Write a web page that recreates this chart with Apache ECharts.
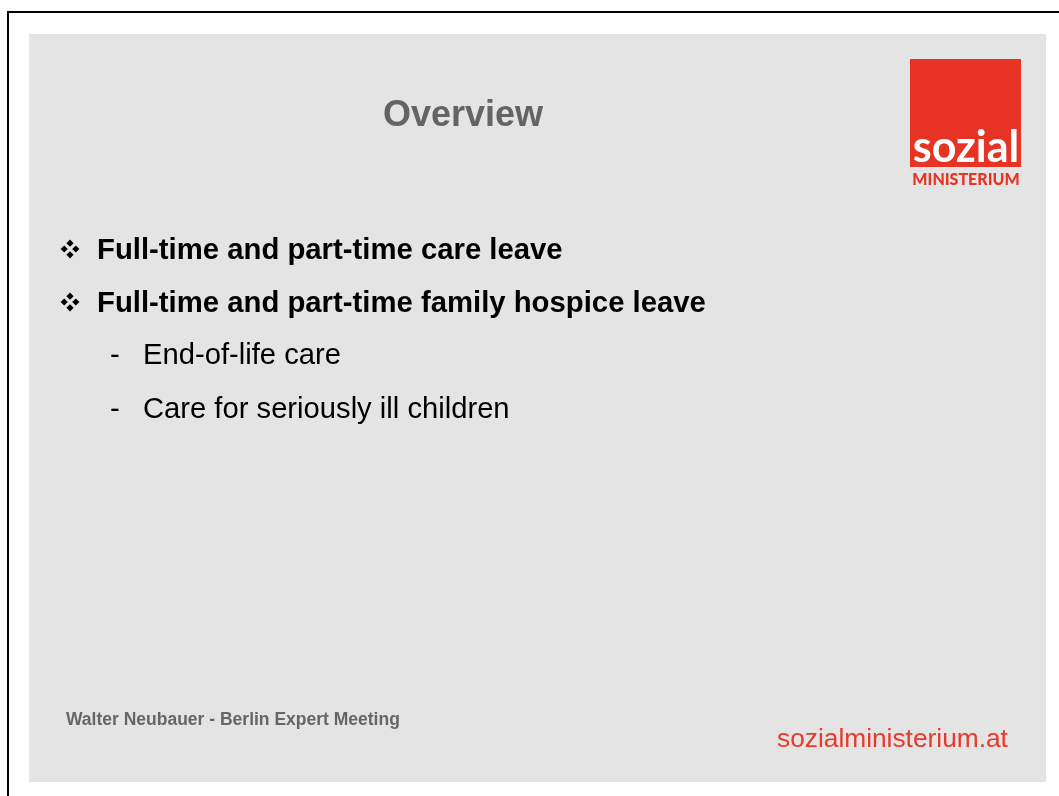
<!DOCTYPE html>
<html>
<head>
<meta charset="utf-8">
<script src="https://cdn.jsdelivr.net/npm/echarts@6/dist/echarts.min.js"></script>
<style>
  html, body { margin: 0; padding: 0; background: #fff; }
  #main { width: 1059px; height: 796px; }
</style>
</head>
<body>
<div id="main"></div>
<script>
  // slide content
  const slideTitle = 'Overview'
  const bulletItems = [
    'Full-time and part-time care leave',
    'Full-time and part-time family hospice leave'
  ]
  const subItems = [
    'End-of-life care',
    'Care for seriously ill children'
  ]
  const footerLeft = 'Walter Neubauer - Berlin Expert Meeting'
  const footerRight = 'sozialministerium.at'
  const logoWords = ['sozial', 'MINISTERIUM']

  const RED = '#e63323'
  const FONT = '"Liberation Sans", Arial, sans-serif'

  const chart = echarts.init(document.getElementById('main'), null, { renderer: 'canvas' })

  // four-diamond bullet (like the wingdings one)
  function diamondBullet(cx, cy) {
    const d = 3.6, off = 5.8
    const pts = [[0, -off], [-off, 0], [off, 0], [0, off]]
    return pts.map(function (p) {
      const x = cx + p[0], y = cy + p[1]
      return {
        type: 'polygon',
        shape: { points: [[x, y - d], [x + d, y], [x, y + d], [x - d, y]] },
        style: { fill: '#000' }
      }
    })
  }

  const elements = []

  // frame lines
  elements.push({ type: 'line', shape: { x1: 7, y1: 12, x2: 1059, y2: 12 }, style: { stroke: '#000', lineWidth: 2 } })
  elements.push({ type: 'line', shape: { x1: 8, y1: 11, x2: 8, y2: 796 }, style: { stroke: '#000', lineWidth: 2 } })

  // slide background
  elements.push({ type: 'rect', shape: { x: 29, y: 34, width: 1017, height: 748 }, style: { fill: '#e4e4e4' } })

  // logo
  elements.push({ type: 'rect', shape: { x: 910, y: 59, width: 111, height: 108 }, style: { fill: RED } })
  elements.push({
    type: 'text',
    style: { x: 966, y: 170, text: logoWords[0], fill: '#fff', font: 'bold 43px Lato, sans-serif', textAlign: 'center', textVerticalAlign: 'bottom' }
  })
  elements.push({
    type: 'text',
    style: { x: 966, y: 180, text: logoWords[1], fill: RED, font: '900 16px Lato, sans-serif', textAlign: 'center', textVerticalAlign: 'middle' }
  })

  // title
  elements.push({
    type: 'text',
    style: { x: 463, y: 116, text: slideTitle, fill: '#646466', font: 'bold 36px ' + FONT, textAlign: 'center', textVerticalAlign: 'middle' }
  })

  // main bullets
  bulletItems.forEach(function (t, i) {
    const y = 251 + i * 53
    diamondBullet(70, y - 2).forEach(function (e) { elements.push(e) })
    elements.push({
      type: 'text',
      style: { x: 97, y: y, text: t, fill: '#000', font: 'bold 29.3px ' + FONT, textVerticalAlign: 'middle' }
    })
  })

  // sub bullets
  subItems.forEach(function (t, i) {
    const y = 356 + i * 54
    elements.push({
      type: 'text',
      style: { x: 110, y: y, text: '-', fill: '#000', font: '29.2px ' + FONT, textVerticalAlign: 'middle' }
    })
    elements.push({
      type: 'text',
      style: { x: 143, y: y, text: t, fill: '#000', font: '29.2px ' + FONT, textVerticalAlign: 'middle' }
    })
  })

  // footer
  elements.push({
    type: 'text',
    style: { x: 66, y: 720, text: footerLeft, fill: '#666668', font: 'bold 17.5px ' + FONT, textVerticalAlign: 'middle' }
  })
  elements.push({
    type: 'text',
    style: { x: 777, y: 740, text: footerRight, fill: '#e8392b', font: '26.3px ' + FONT, textVerticalAlign: 'middle' }
  })

  chart.setOption({
    backgroundColor: '#fff',
    animation: false,
    graphic: { elements: elements }
  })
</script>
</body>
</html>
